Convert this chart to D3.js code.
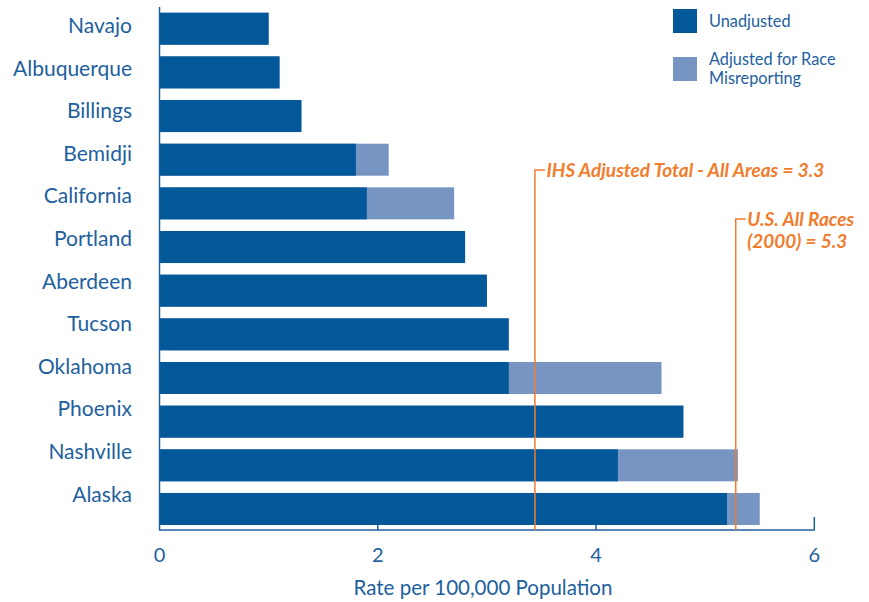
<!DOCTYPE html>
<html><head><meta charset="utf-8">
<script src="https://cdn.jsdelivr.net/npm/d3@7"></script>
<style>body{margin:0;background:#fff}svg{display:block}</style>
</head><body>
<svg id="c" width="869" height="602"></svg>
<script>
const categories = ["Navajo","Albuquerque","Billings","Bemidji","California","Portland","Aberdeen","Tucson","Oklahoma","Phoenix","Nashville","Alaska"];
const unadjusted = [1.0,1.1,1.3,1.8,1.9,2.8,3.0,3.2,3.2,4.8,4.2,5.2];
const adjusted   = [1.0,1.1,1.3,2.1,2.7,2.8,3.0,3.2,4.6,4.8,5.3,5.5];
const xTicks = [0,2,4,6];
const refValues = [3.44,5.28];
const refLabels = [["IHS Adjusted Total - All Areas = 3.3"],["U.S. All Races","(2000) = 5.3"]];
const refLabelTop = [170,219];
const legendLabels = [["Unadjusted"],["Adjusted for Race","Misreporting"]];

const DARK="#03589A", LIGHT="#7795C3", ORANGE="#F07D2E", TEXT="#1E5F9E";
const FONT="Lato, 'Open Sans', sans-serif";

const svg=d3.select("#c");
const x=d3.scaleLinear().domain([0,6]).range([159.5,814.3]);
const y=d3.scaleBand().domain(categories).range([6.9,530.8]).paddingInner(0.267).paddingOuter(0.1335);
const yLabel=d3.scalePoint().domain(categories).range([33,501.7]);

// adjusted (light) bars behind
svg.append("g").selectAll("rect").data(categories).join("rect")
  .attr("x",x(0)).attr("y",d=>y(d)).attr("height",y.bandwidth())
  .attr("width",(d,i)=>x(adjusted[i])-x(0)).attr("fill",LIGHT);
svg.append("g").selectAll("rect").data(categories).join("rect")
  .attr("x",x(0)).attr("y",d=>y(d)).attr("height",y.bandwidth())
  .attr("width",(d,i)=>x(unadjusted[i])-x(0)).attr("fill",DARK);

// axes
svg.append("line").attr("x1",x(0)).attr("x2",x(0)).attr("y1",7).attr("y2",530.5)
  .attr("stroke",TEXT).attr("stroke-width",1.5);
svg.append("line").attr("x1",x(0)).attr("x2",x(6)+0.5).attr("y1",530).attr("y2",530)
  .attr("stroke",TEXT).attr("stroke-width",1.5);
svg.append("g").selectAll("line").data(xTicks.slice(1)).join("line")
  .attr("x1",d=>x(d)).attr("x2",d=>x(d)).attr("y1",d=>d===6?517:524.5).attr("y2",530)
  .attr("stroke",TEXT).attr("stroke-width",1.5);
svg.append("g").selectAll("text").data(xTicks).join("text")
  .attr("x",d=>x(d)).attr("y",562).attr("text-anchor","middle")
  .attr("font-family",FONT).attr("font-size",20).attr("fill",TEXT).text(d=>d);
svg.append("text").attr("x",483).attr("y",595).attr("text-anchor","middle")
  .attr("font-family",FONT).attr("font-size",20.5).attr("fill",TEXT).text("Rate per 100,000 Population");

// category labels
svg.append("g").selectAll("text").data(categories).join("text")
  .attr("x",132).attr("y",d=>yLabel(d)).attr("text-anchor","end")
  .attr("font-family",FONT).attr("font-size",21).attr("fill",TEXT).text(d=>d);

// reference lines
refValues.forEach((v,i)=>{
  const xx=x(v), top=refLabelTop[i];
  svg.append("path").attr("d",`M${xx},530 V${top} H${xx+10}`)
    .attr("fill","none").attr("stroke",ORANGE).attr("stroke-width",1.5);
  refLabels[i].forEach((t,j)=>{
    svg.append("text").attr("x",xx+11.5).attr("y",top+7+j*22)
      .attr("font-family",FONT).attr("font-size",19).attr("font-style","italic").attr("font-weight","bold")
      .attr("fill",ORANGE).text(t);
  });
});

// legend
const legColors=[DARK,LIGHT];
legendLabels.forEach((lines,i)=>{
  const top=9+i*48;
  svg.append("rect").attr("x",673).attr("y",top).attr("width",24).attr("height",24).attr("fill",legColors[i]);
  lines.forEach((t,j)=>{
    svg.append("text").attr("x",709).attr("y",(i===0?27:64.5)+j*19)
      .attr("font-family",FONT).attr("font-size",16.3).attr("fill",TEXT).text(t);
  });
});
</script>
</body></html>
